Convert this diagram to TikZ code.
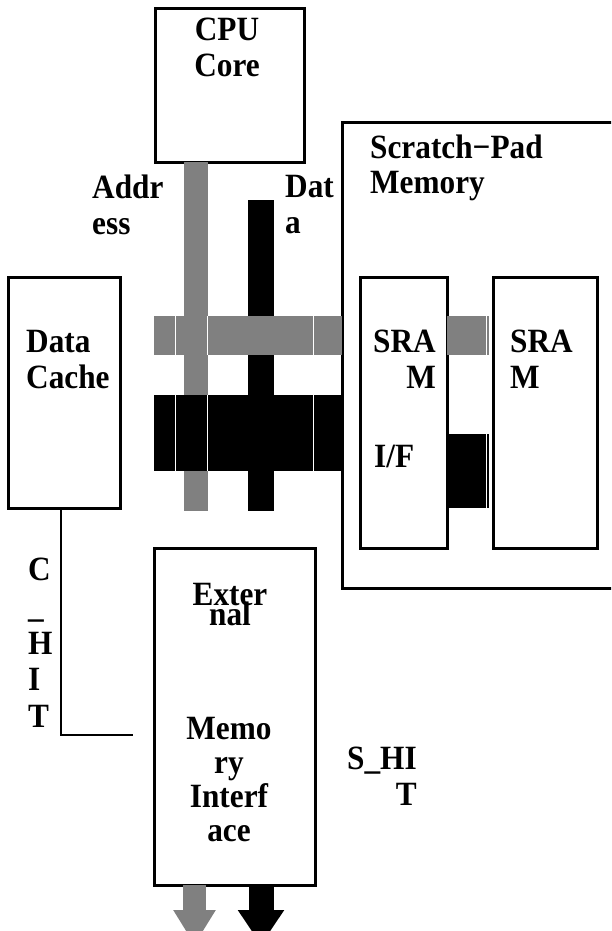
\documentclass[tikz,border=0pt]{standalone}
\usepackage{fontspec}
\setmainfont{Liberation Serif}[FakeStretch=0.92]
\usetikzlibrary{arrows.meta}
\newcommand\lblfont[1]{\fontsize{34}{#1}\selectfont\bfseries\lineskiplimit=-50pt\relax}
\begin{document}
\begin{tikzpicture}[
  x=1pt, y=-1pt,
  box/.style={draw,line width=3pt,inner sep=0pt,outer sep=0pt},
  lbl/.style={inner sep=0pt,font=\lblfont{36}},
  abus/.style={draw=gray,line width=#1},
  dbus/.style={draw=black,line width=#1},
  gap/.style={draw=white,line width=1pt}
]
  \useasboundingbox (0,0) rectangle (611,931);
  \clip (0,0) rectangle (611,931);

  % blocks
  \node[box,minimum width=149pt,minimum height=153pt] (cpu)    at (229.5,85.5) {};
  \node[box,minimum width=112pt,minimum height=231pt] (dcache) at (64,393) {};
  \node[box,minimum width=298pt,minimum height=465pt] (spm)    at (491,355.5) {};
  \node[box,minimum width=87pt, minimum height=271pt] (sramif) at (403.5,412.5) {};
  \node[box,minimum width=104pt,minimum height=271pt] (sram)   at (545,412.5) {};
  \node[box,minimum width=161pt,minimum height=337pt] (emi)    at (234.5,716.5) {};

  % buses
  \coordinate (abot) at (196,511);
  \coordinate (dtop) at (261,200);
  \coordinate (dbot) at (261,511);
  \coordinate (aleft) at (154,335.5);
  \coordinate (dleft) at (154,433);
  \draw[dbus=26pt] (dtop) -- (dbot);
  \draw[abus=24pt] (cpu.south -| abot) -- (abot);
  \draw[abus=39pt] (aleft) -- (aleft -| spm.west);
  \draw[dbus=76pt] (dleft) -- (dleft -| spm.west);
  \coordinate (alink) at (489,335.5);
  \coordinate (dlink) at (489,471);
  \draw[abus=39pt] (alink -| sramif.east) -- (alink);
  \draw[dbus=74pt] (dlink -| sramif.east) -- (dlink);
  \foreach \gx in {175,207,313} {
    \draw[gap] (\gx,316) -- (\gx,355);
    \draw[gap] (\gx,395) -- (\gx,471);
  }
  \draw[gap] (486.5,316) -- (486.5,355);
  \draw[gap] (486.5,434) -- (486.5,508);

  % outputs of the external interface
  \coordinate (aout) at (194.5,945);
  \coordinate (dout) at (261,945);
  \draw[abus=23pt,-{Triangle[length=35pt,width=40pt]}] (emi.south -| aout) -- (aout);
  \draw[dbus=25pt,-{Triangle[length=35pt,width=44pt]}] (emi.south -| dout) -- (dout);

  % hit signal
  \coordinate (chit) at (133,735);
  \draw[line width=2.5pt] ([xshift=-3pt]dcache.south) |- (chit);

  % labels
  \node[lbl,align=center,anchor=north] (cputxt) at (227,18) {CPU\\Core};
  \node[lbl,align=left,anchor=north west] (addrtxt) at (92,175) {Addr\\ess};
  \node[lbl,align=left,anchor=north west] (datatxt) at (285,175) {Dat\\a};
  \node[lbl,align=left,anchor=north west,font=\lblfont{35}] (spmtxt) at (370,135) {Scratch−Pad\\Memory};
  \node[lbl,align=left,anchor=north west] (dctxt) at (26,330) {Data\\Cache};
  \node[lbl,align=right,anchor=north west] (iftxt) at (373,330) {SRA\\M};
  \node[lbl,anchor=north west] (iftxt2) at (374,445) {I/F};
  \node[lbl,align=left,anchor=north west] (sramtxt) at (510,330) {SRA\\M};
  \node[lbl,align=center,anchor=north,font=\lblfont{20}] (emitxt) at (230,583) {Exter\\nal};
  \node[lbl,align=center,anchor=north,font=\lblfont{34}] (emitxt2) at (229,717) {Memo\\ry\\Interf\\ace};
  \node[lbl,align=left,anchor=north west,font=\lblfont{36.7}] (chittxt) at (28,558) {C\\\_\\H\\I\\T};
  \node[lbl,align=right,anchor=north west] (shittxt) at (347,747) {S\_HI\\T};
\end{tikzpicture}
\end{document}
